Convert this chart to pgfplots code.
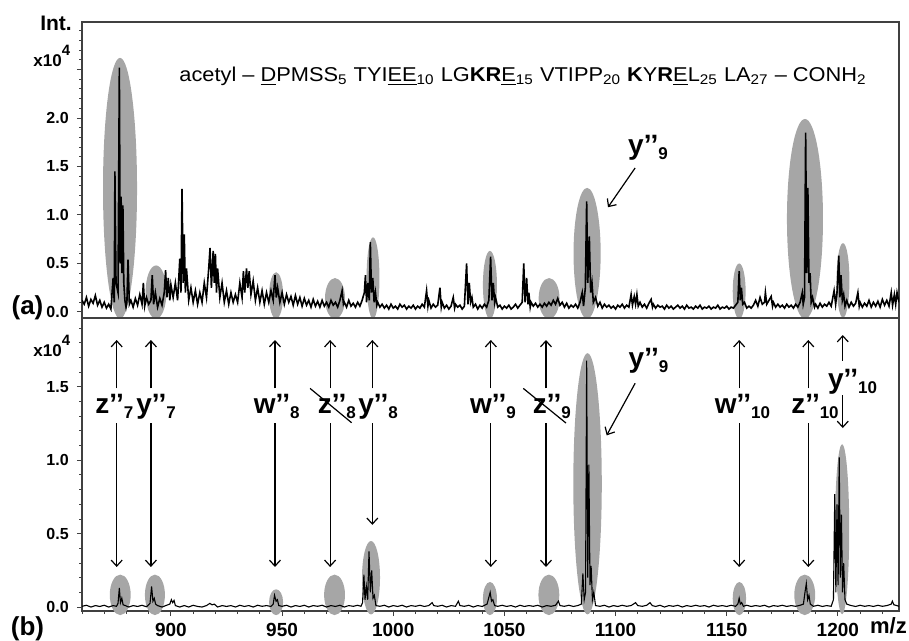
\documentclass[border=0pt]{standalone}
\usepackage{fontspec}
\setmainfont{Liberation Sans}
\usepackage{pgfplots}
\pgfplotsset{compat=1.18}
\usetikzlibrary{arrows.meta}

% ion label: letter, double prime, lowered subscript
\newcommand\ion[2]{{\fontsize{14}{14}\selectfont\bfseries #1’’\raisebox{-2.5pt}{\fontsize{8.5}{8.5}\selectfont #2}}}
\definecolor{blob}{gray}{0.65}

\tikzset{arr/.style={-{Straight Barb[length=3pt,width=5.5pt]}, line width=0.6pt}}

% double arrow broken by a label: arrow x, label x, lower arrow end, letter, subscript
\newcommand\ionarrow[5]{%
  \draw[arr] (axis cs:#1,1.49) -- (axis cs:#1,1.82);
  \draw[arr] (axis cs:#1,1.254) -- (axis cs:#1,#3);
  \node at (axis cs:#2,1.365) {\ion{#4}{#5}};
}

\pgfplotsset{
  spec/.style={
    scale only axis, width=408.5pt,
    xmin=860, xmax=1227.5,
    clip mode=individual,
    axis line style={black!75, line width=0.6pt},
    tick style={black!75, line width=0.5pt},
    tick align=outside,
    major tick length=2.6pt, minor tick length=1.5pt,
    ytick pos=left,
    yticklabel style={font=\bfseries\fontsize{8}{8}\selectfont, xshift=-0.5pt},
    xticklabel style={font=\bfseries\fontsize{9.5}{9.5}\selectfont},
  },
}

\begin{document}
\begin{tikzpicture}
\useasboundingbox (-41pt,-309.5pt) rectangle (413.5pt,11pt);

%% ---------- panel (a) ----------
\begin{axis}[spec, name=a, at={(0,0)}, anchor=north west,
  height=148pt, ymin=-0.062, ymax=2.99,
  xtick=\empty,
  ytick={0,0.5,1,1.5,2,2.5}, yticklabels={0.0,0.5,1.0,1.5,2.0,{}},
  minor ytick={0.1,0.2,...,2.95}]

\fill[blob] (axis cs:877.1,1.275) ellipse [x radius=7.65, y radius=1.345];
\fill[blob] (axis cs:893.3,0.205) ellipse [x radius=4.7, y radius=0.275];
\fill[blob] (axis cs:947.3,0.17) ellipse [x radius=3.15, y radius=0.24];
\fill[blob] (axis cs:973.8,0.14) ellipse [x radius=4.5, y radius=0.21];
\fill[blob] (axis cs:990.9,0.35) ellipse [x radius=2.9, y radius=0.42];
\fill[blob] (axis cs:1043.5,0.28) ellipse [x radius=3.15, y radius=0.35];
\fill[blob] (axis cs:1070.1,0.14) ellipse [x radius=4.7, y radius=0.21];
\fill[blob] (axis cs:1087.2,0.605) ellipse [x radius=6.1, y radius=0.675];
\fill[blob] (axis cs:1155.6,0.215) ellipse [x radius=2.9, y radius=0.285];
\fill[blob] (axis cs:1185.2,0.96) ellipse [x radius=8.1, y radius=1.03];
\fill[blob] (axis cs:1202.3,0.325) ellipse [x radius=2.9, y radius=0.385];

\addplot[black, line width=0.8pt] table {
x y
860 0.12
861 0.08
862 0.15
863 0.06
864 0.13
865 0.09
866 0.17
867 0.07
868 0.12
869 0.05
870 0.1
871 0.04
872 0.08
873 0.03
874 0.35
874.5 0.1
874.8 1.45
875.3 0.3
876.2 0.2
876.8 2.52
877.2 0.5
877.6 1.19
878.0 0.4
878.4 1.1
878.8 0.3
879.3 0.12
879.8 0.05
880.2 0.1
880.7 0.54
881.3 0.08
882 0.12
883 0.05
884 0.14
885 0.07
886 0.18
887 0.08
887.6 0.3
888.2 0.06
889 0.15
890 0.08
891 0.12
891.6 0.38
892.2 0.08
893 0.2
894 0.05
895 0.14
896 0.07
897 0.2
897.6 0.43
898.2 0.15
898.8 0.35
899.5 0.12
900 0.28
901 0.15
902 0.3
903 0.12
904 0.55
904.5 0.2
905 1.27
905.5 0.3
906 0.8
906.5 0.2
907 0.45
908 0.12
909 0.25
910 0.1
911 0.22
912 0.08
913 0.2
914 0.1
915 0.3
916 0.15
917 0.45
917.6 0.66
918.2 0.25
919 0.63
919.5 0.3
920 0.6
920.5 0.2
921 0.45
922 0.15
923 0.3
924 0.1
925 0.22
926 0.08
927 0.2
928 0.1
929 0.18
930 0.1
931 0.3
932 0.15
932.6 0.42
933.2 0.2
934 0.45
934.6 0.25
935.2 0.42
936 0.18
937 0.32
938 0.12
939 0.25
940 0.1
941 0.22
942 0.08
943 0.2
944 0.1
945 0.22
946 0.12
946.8 0.38
947.4 0.15
948 0.25
949 0.1
950 0.2
951 0.08
952 0.18
953 0.1
954 0.16
955 0.07
956 0.17
957 0.08
958 0.15
959 0.06
960 0.14
961 0.07
962 0.12
963 0.05
964 0.13
965 0.06
966 0.11
967 0.05
968 0.12
969 0.06
970 0.1
971 0.05
972 0.12
973 0.07
974 0.1
975 0.05
976 0.12
977 0.22
977.6 0.08
978 0.1
979 0.05
980 0.12
981 0.06
982 0.09
983 0.05
984 0.1
985 0.06
986 0.12
987 0.2
987.5 0.38
988 0.1
988.6 0.3
989.2 0.12
989.7 0.72
990.2 0.2
990.8 0.35
991.4 0.1
992 0.2
992.6 0.07
993 0.1
994 0.05
995 0.08
996 0.04
997 0.07
998 0.03
999 0.08
1000 0.04
1001 0.06
1002 0.03
1003 0.08
1004 0.05
1005 0.07
1006 0.03
1007 0.06
1008 0.04
1009 0.07
1010 0.03
1011 0.06
1012 0.04
1013 0.08
1014 0.05
1015 0.22
1015.6 0.06
1016 0.12
1017 0.04
1018 0.08
1019 0.05
1020 0.07
1021 0.25
1021.6 0.05
1022 0.1
1023 0.04
1024 0.07
1025 0.03
1026 0.06
1027 0.15
1027.6 0.04
1028 0.08
1029 0.05
1030 0.07
1031 0.03
1032 0.06
1033 0.5
1033.6 0.08
1034.2 0.3
1034.8 0.1
1035.4 0.15
1036 0.05
1037 0.08
1038 0.03
1039 0.07
1040 0.04
1041 0.08
1042 0.05
1043 0.12
1043.8 0.57
1044.4 0.12
1045 0.3
1045.6 0.1
1046 0.15
1047 0.05
1048 0.07
1049 0.03
1050 0.06
1051 0.04
1052 0.07
1053 0.03
1054 0.05
1055 0.08
1056 0.04
1057 0.07
1058 0.1
1058.7 0.5
1059.3 0.1
1060 0.35
1060.6 0.08
1061 0.2
1061.6 0.05
1062 0.1
1063 0.06
1064 0.09
1065 0.05
1066 0.08
1067 0.05
1068 0.09
1069 0.06
1070 0.1
1071 0.07
1072 0.12
1073 0.08
1074 0.14
1075 0.07
1076 0.1
1077 0.05
1078 0.09
1079 0.04
1080 0.07
1081 0.05
1082 0.08
1083 0.04
1084 0.1
1085 0.2
1085.6 0.06
1086.4 0.25
1087 1.14
1087.5 0.3
1088.2 0.78
1088.8 0.2
1089.4 0.3
1090.0 0.1
1091 0.15
1092 0.06
1093 0.1
1094 0.04
1095 0.08
1096 0.05
1097 0.07
1098 0.04
1099 0.06
1100 0.03
1101 0.07
1102 0.05
1103 0.08
1104 0.04
1105 0.07
1106 0.05
1107 0.18
1107.6 0.07
1108.4 0.16
1109 0.08
1109.6 0.18
1110.2 0.06
1111 0.1
1112 0.05
1113 0.08
1114 0.04
1115 0.09
1116 0.13
1116.6 0.05
1117 0.08
1118 0.04
1119 0.07
1120 0.05
1121 0.06
1122 0.03
1123 0.07
1124 0.04
1125 0.06
1126 0.03
1127 0.05
1128 0.07
1129 0.04
1130 0.06
1131 0.03
1132 0.07
1133 0.04
1134 0.05
1135 0.03
1136 0.06
1137 0.04
1138 0.07
1139 0.03
1140 0.05
1141 0.04
1142 0.06
1143 0.03
1144 0.05
1145 0.04
1146 0.07
1147 0.03
1148 0.05
1149 0.04
1150 0.06
1151 0.03
1152 0.05
1153 0.04
1154 0.07
1155 0.1
1155.6 0.42
1156.1 0.12
1156.6 0.25
1157.2 0.08
1158 0.1
1159 0.04
1160 0.06
1161 0.04
1162 0.07
1163 0.12
1164 0.06
1165 0.15
1166 0.08
1167 0.1
1167.4 0.2
1168 0.08
1169 0.12
1170 0.16
1170.6 0.06
1171 0.1
1172 0.05
1173 0.08
1174 0.05
1175 0.07
1176 0.04
1177 0.08
1178 0.05
1179 0.07
1180 0.04
1181 0.08
1182 0.05
1183 0.1
1184 0.2
1184.4 0.08
1185 0.15
1185.5 1.85
1186 0.4
1186.5 1.28
1187 0.3
1187.5 0.4
1188 0.1
1188.6 0.15
1189.5 0.05
1190 0.08
1191 0.04
1192 0.09
1193 0.05
1194 0.08
1195 0.06
1196 0.1
1197 0.06
1198.3 0.22
1199 0.08
1199.6 0.2
1200.4 0.58
1200.9 0.15
1201.4 0.38
1202 0.12
1202.6 0.18
1203.2 0.06
1204 0.12
1205 0.05
1206 0.1
1207 0.06
1208 0.09
1209 0.2
1209.6 0.06
1210 0.1
1211 0.05
1212 0.09
1213 0.06
1214 0.12
1215 0.05
1216 0.1
1217 0.06
1218 0.11
1219 0.05
1220 0.13
1221 0.07
1222 0.12
1223 0.06
1224 0.2
1224.6 0.07
1225.4 0.18
1226 0.08
1226.6 0.2
1227.5 0.1
};

\node at (axis cs:1058.4,2.43)
  {\scalebox{1.09}[1]{\fontsize{10}{12}\selectfont acetyl – \underline{D}PMSS\textsubscript{5} TYI\underline{EE}\textsubscript{10} LG\textbf{KR}\underline{E}\textsubscript{15} VTIPP\textsubscript{20} \textbf{K}Y\textbf{R}\underline{E}L\textsubscript{25} LA\textsubscript{27} – CONH\textsubscript{2}}};

\node at (axis cs:1114.6,1.69) {\ion{y}{9}};
\draw[arr] (axis cs:1108.8,1.485) -- (axis cs:1096.6,1.08);
\end{axis}

%% ---------- panel (b) ----------
\begin{axis}[spec, name=b, at={(0,-148pt)}, anchor=north west,
  height=146.5pt, ymin=-0.027, ymax=1.97,
  xtick pos=bottom,
  xtick={900,950,...,1200}, xticklabels={900,950,1000,1050,1100,1150,1200},
  minor xtick={860,870,...,1220},
  ytick={0,0.5,1,1.5}, yticklabels={0.0,0.5,1.0,1.5},
  minor ytick={0.1,0.2,...,1.95}]

\fill[blob] (axis cs:877.2,0.083) ellipse [x radius=4.7, y radius=0.138];
\fill[blob] (axis cs:892.8,0.083) ellipse [x radius=4.5, y radius=0.138];
\fill[blob] (axis cs:947.3,0.033) ellipse [x radius=3.15, y radius=0.088];
\fill[blob] (axis cs:973.6,0.083) ellipse [x radius=4.7, y radius=0.138];
\fill[blob] (axis cs:990.0,0.2) ellipse [x radius=4.05, y radius=0.25];
\fill[blob] (axis cs:1043.5,0.058) ellipse [x radius=3.15, y radius=0.113];
\fill[blob] (axis cs:1070.0,0.083) ellipse [x radius=4.7, y radius=0.138];
\fill[blob] (axis cs:1087.4,0.84) ellipse [x radius=6.4, y radius=0.89];
\fill[blob] (axis cs:1155.7,0.058) ellipse [x radius=3.0, y radius=0.113];
\fill[blob] (axis cs:1185.1,0.083) ellipse [x radius=4.7, y radius=0.138];
\fill[blob] (axis cs:1201.9,0.53) ellipse [x radius=3.2, y radius=0.58];

\addplot[black, line width=0.55pt] table {
x y
860 0.005
862 0.012
864 0.0
866 0.01
868 0.004
870 0.012
872 0.0
874 0.01
875.5 0.005
876.2 0.025
876.8 0.13
877.3 0.03
877.9 0.06
878.5 0.015
879.5 0.01
881 0.0
883 0.01
885 0.004
887 0.012
889 0.002
890.6 0.025
891.3 0.14
891.9 0.04
892.5 0.06
893.1 0.02
894 0.01
896 0.0
898 0.012
899.5 0.02
900.2 0.05
900.8 0.03
901.4 0.045
902 0.01
904 0.0
906 0.01
908 0.0
910 0.012
912 0.004
914 0.0
916 0.01
917.5 0.025
918.5 0.015
919.5 0.02
921 0.0
923 0.01
925 0.004
927 0.01
929 0.0
931 0.012
933 0.004
935 0.01
937 0.0
939 0.012
941 0.005
943 0.01
945 0.004
946 0.02
946.6 0.08
947.3 0.04
947.9 0.05
948.5 0.01
950 0.005
952 0.012
954 0.0
956 0.01
958 0.004
960 0.012
962 0.0
964 0.01
966 0.005
968 0.012
970 0.0
972 0.01
974 0.004
976 0.012
978 0.0
980 0.01
982 0.005
984 0.012
985.5 0.005
986.2 0.03
986.8 0.22
987.3 0.05
987.9 0.14
988.5 0.05
989.1 0.38
989.7 0.1
990.3 0.25
990.9 0.06
991.5 0.08
992.2 0.01
994 0.005
996 0.012
998 0.0
1000 0.01
1002 0.004
1004 0.012
1006 0.0
1008 0.01
1010 0.005
1012 0.012
1014 0.004
1016 0.01
1017.5 0.03
1018.2 0.01
1020 0.005
1022 0.012
1024 0.0
1026 0.01
1028 0.005
1029.3 0.04
1030 0.01
1032 0.005
1034 0.012
1036 0.0
1038 0.01
1040 0.004
1042.2 0.02
1043.6 0.1
1044.2 0.04
1044.8 0.05
1045.6 0.01
1047 0.005
1049 0.012
1051 0.004
1053 0.01
1055 0.0
1057 0.012
1059 0.004
1061 0.01
1063 0.005
1065 0.012
1067 0.0
1069 0.01
1071 0.005
1073 0.012
1074.3 0.04
1075 0.01
1077 0.005
1079 0.012
1081 0.004
1083 0.01
1084.6 0.02
1085.3 0.23
1085.9 0.05
1086.5 0.1
1087 1.68
1087.5 0.2
1088 0.97
1088.5 0.15
1089 0.28
1089.6 0.05
1090.2 0.1
1091 0.01
1093 0.005
1095 0.012
1097 0.0
1099 0.01
1101 0.004
1103 0.012
1105 0.005
1107 0.01
1109 0.03
1110 0.01
1112 0.005
1114 0.012
1115.5 0.03
1116.5 0.01
1118 0.004
1120 0.012
1122 0.0
1124 0.01
1126 0.005
1128 0.012
1130 0.0
1132 0.01
1134 0.004
1136 0.012
1138 0.005
1140 0.01
1142 0.0
1144 0.012
1146 0.005
1148 0.01
1150 0.004
1152 0.012
1154 0.005
1155 0.02
1155.6 0.06
1156.1 0.02
1156.7 0.03
1157.5 0.005
1159 0.012
1161 0.004
1163 0.01
1165 0.005
1167 0.012
1169 0.0
1171 0.01
1173 0.005
1175 0.012
1177 0.004
1179 0.01
1181 0.005
1183 0.012
1184.5 0.02
1185.2 0.1
1185.8 0.16
1186.4 0.05
1187 0.08
1187.6 0.02
1189 0.005
1191 0.012
1193 0.004
1195 0.01
1197 0.005
1198 0.05
1198.6 0.77
1199.1 0.1
1199.6 0.7
1200.1 0.15
1200.6 1.02
1201.1 0.2
1201.6 0.63
1202.1 0.1
1202.6 0.3
1203.2 0.05
1204 0.02
1206 0.01
1208 0.004
1210 0.012
1212 0.005
1214 0.01
1216 0.004
1218 0.012
1220 0.005
1222 0.01
1224 0.02
1224.5 0.04
1225.2 0.015
1226.5 0.01
1227.5 0.005
};

% double arrows with ion labels
\ionarrow{875.6}{874.6}{0.273}{z}{7}
\ionarrow{891.0}{893.3}{0.273}{y}{7}
\ionarrow{946.8}{947.6}{0.273}{w}{8}
\ionarrow{971.6}{974.6}{0.273}{z}{8}
\ionarrow{990.6}{993.2}{0.56}{y}{8}
\ionarrow{1043.9}{1044.9}{0.273}{w}{9}
\ionarrow{1068.7}{1071.3}{0.273}{z}{9}
\ionarrow{1155.6}{1157.1}{0.273}{w}{10}
\ionarrow{1186.7}{1189.7}{0.273}{z}{10}
\draw[line width=0.6pt] (axis cs:962.6,1.49) -- (axis cs:981.3,1.256);
\draw[line width=0.6pt] (axis cs:1058.5,1.49) -- (axis cs:1077.7,1.254);

\draw[arr] (axis cs:1202.2,1.68) -- (axis cs:1202.2,1.854);
\draw[arr] (axis cs:1202.2,1.445) -- (axis cs:1202.2,1.22);
\node at (axis cs:1206.6,1.536) {\ion{y}{10}};

\node at (axis cs:1114.8,1.68) {\ion{y}{9}};
\draw[arr] (axis cs:1108.8,1.525) -- (axis cs:1096,1.17);
\end{axis}

% outer labels
\node[font=\bfseries\fontsize{10.5}{10.5}\selectfont] at ([xshift=-13pt,yshift=-0.5pt]a.north west) {Int.};
\node[anchor=base west, inner sep=0pt, font=\bfseries\fontsize{8.5}{8.5}\selectfont]
  at ([xshift=-24.5pt,yshift=-22.5pt]a.north west) {x10\raisebox{5.5pt}{\fontsize{7.5}{7.5}\selectfont 4}};
\node[anchor=base west, inner sep=0pt, font=\bfseries\fontsize{8.5}{8.5}\selectfont]
  at ([xshift=-24.5pt,yshift=-19.3pt]b.north west) {x10\raisebox{5.5pt}{\fontsize{7.5}{7.5}\selectfont 4}};
\node[font=\bfseries\fontsize{13}{13}\selectfont] at ([xshift=-27.25pt,yshift=5.25pt]a.south west) {(a)};
\node[font=\bfseries\fontsize{13}{13}\selectfont] at ([xshift=-27.25pt,yshift=-9pt]b.south west) {(b)};
\node[font=\bfseries\fontsize{11}{11}\selectfont] at ([xshift=-5.25pt,yshift=-7.5pt]b.south east) {m/z};
\end{tikzpicture}
\end{document}
